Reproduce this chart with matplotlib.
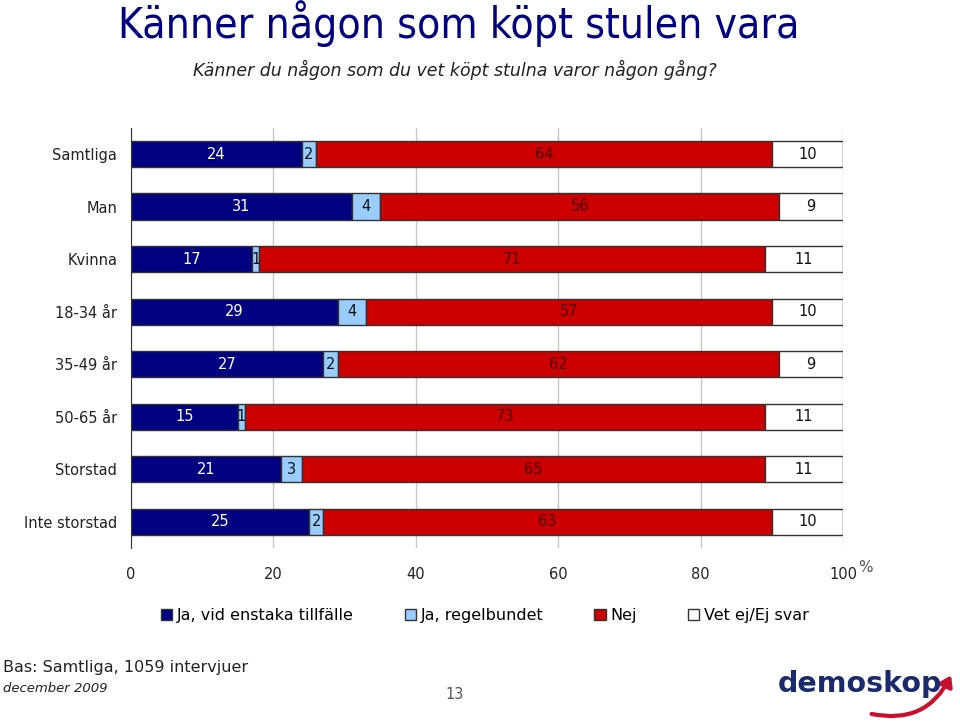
import numpy as np
import matplotlib.pyplot as plt
from matplotlib.patches import FancyArrowPatch

# Data
groups = ["Samtliga", "Man", "Kvinna", "18-34 år", "35-49 år", "50-65 år",
          "Storstad", "Inte storstad"]
ja_enstaka = [24, 31, 17, 29, 27, 15, 21, 25]
ja_regel = [2, 4, 1, 4, 2, 1, 3, 2]
nej = [64, 56, 71, 57, 62, 73, 65, 63]
vet_ej = [10, 9, 11, 10, 9, 11, 11, 10]

series = [ja_enstaka, ja_regel, nej, vet_ej]
labels = ["Ja, vid enstaka tillfälle", "Ja, regelbundet", "Nej", "Vet ej/Ej svar"]
colors = ["#000080", "#99CCFF", "#CC0000", "#FFFFFF"]
text_colors = ["white", "#111111", "#4a0000", "#111111"]
xticks = [0, 20, 40, 60, 80, 100]

plt.rcParams["font.family"] = ["DejaVu Sans"]

fig = plt.figure(figsize=(9.6, 7.22), dpi=100)
ax = fig.add_axes([0.1365, 0.241, 0.7417, 0.582])

y = np.arange(len(groups))
left = np.zeros(len(groups))
handles = []
for vals, lab, col, tc in zip(series, labels, colors, text_colors):
    vals = np.array(vals, dtype=float)
    b = ax.barh(y, vals, left=left, height=0.5, color=col, edgecolor="#333333",
                linewidth=1.0, label=lab, zorder=3)
    handles.append(b)
    for yi, l, v in zip(y, left, vals):
        ax.text(l + v / 2, yi, f"{int(v)}", ha="center", va="center",
                color=tc, fontsize=10.5, zorder=4)
    left += vals

ax.set_xlim(0, 100)
ax.set_ylim(len(groups) - 0.5, -0.5)
ax.set_xticks(xticks)
ax.set_xticklabels([str(t) for t in xticks])
ax.set_yticks(y)
ax.set_yticklabels(groups)
ax.tick_params(axis="both", length=0, labelsize=10.5, colors="#222222")
ax.tick_params(axis="x", pad=14)
ax.tick_params(axis="y", pad=10)
ax.grid(axis="x", color="#c8c8c8", linewidth=1.0, zorder=0)
for s in ["top", "right", "bottom"]:
    ax.spines[s].set_visible(False)
ax.spines["left"].set_color("#333333")
ax.spines["left"].set_zorder(5)
fig.text(0.894, 0.214, "%", fontsize=11, color="#555555", ha="left", va="center")

# Legend
leg = fig.legend(handles=handles, labels=labels, loc="center", ncol=4,
                 bbox_to_anchor=(0.505, 0.147), frameon=False, fontsize=11.5,
                 handlelength=0.7, handleheight=0.7, handletextpad=0.3,
                 columnspacing=3.2)

# Titles
fig.text(0.478, 0.968, "Känner någon som köpt stulen vara", ha="center",
         va="center", fontsize=30.5, color="#000080", fontstretch="condensed")
fig.text(0.474, 0.903, "Känner du någon som du vet köpt stulna varor någon gång?",
         ha="center", va="center", fontsize=12.5, style="italic", color="#222222")

# Footer
fig.text(0.003, 0.076, "Bas: Samtliga, 1059 intervjuer", ha="left", va="center",
         fontsize=11.5, color="#222222")
fig.text(0.003, 0.047, "december 2009", ha="left", va="center",
         fontsize=9.5, style="italic", color="#222222")
fig.text(0.474, 0.038, "13", ha="center", va="center", fontsize=10.5, color="#555555")
fig.text(0.81, 0.052, "demoskop", ha="left", va="center", fontsize=20.5,
         fontweight="bold", color="#1a2a6c")
arrow = FancyArrowPatch((0.905, 0.012), (0.992, 0.068), transform=fig.transFigure,
                        connectionstyle="arc3,rad=0.4",
                        arrowstyle="-|>,head_length=6,head_width=4",
                        color="#c8102e", linewidth=3)
fig.patches.append(arrow)

fig.savefig("out.png", dpi=100)
